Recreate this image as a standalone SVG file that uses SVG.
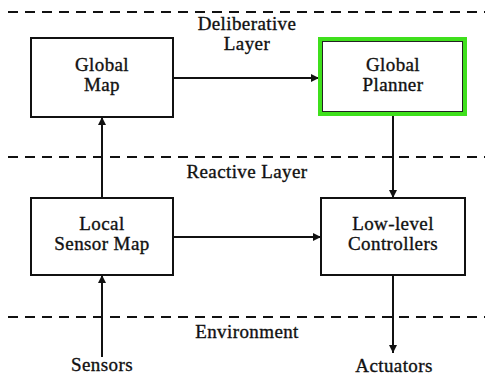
<svg xmlns="http://www.w3.org/2000/svg" width="485" height="375" viewBox="0 0 485 375">
<style>
.t{font-family:"Liberation Serif","Times New Roman",serif;font-size:19px;letter-spacing:0.4px;fill:#111;stroke:#111;stroke-width:0.35;text-anchor:middle}
.box{fill:#fff;stroke:#111;stroke-width:2}
.dash{stroke:#111;stroke-width:2;stroke-dasharray:10 7}
.ln{stroke:#111;stroke-width:2;fill:none}
</style>
<defs>
<marker id="ah" viewBox="0 0 10 10" refX="10" refY="5" markerWidth="8" markerHeight="8" markerUnits="userSpaceOnUse" orient="auto">
<path d="M0,0 L10,5 L0,10 z" fill="#111"/>
</marker>
</defs>
<rect width="485" height="375" fill="#fff"/>
<g id="layers">
<line class="dash" x1="8" y1="12" x2="485" y2="12"/>
<line class="dash" x1="8" y1="157" x2="485" y2="157"/>
<line class="dash" x1="8" y1="317" x2="485" y2="317"/>
<text class="t" x="247" y="30">Deliberative</text>
<text class="t" x="247" y="50">Layer</text>
<text class="t" x="247" y="178">Reactive Layer</text>
<text class="t" x="247" y="338">Environment</text>
</g>
<g id="connectors">
<line class="ln" x1="173" y1="78" x2="319" y2="78" marker-end="url(#ah)"/>
<line class="ln" x1="173" y1="237" x2="321" y2="237" marker-end="url(#ah)"/>
<line class="ln" x1="102" y1="198" x2="102" y2="117" marker-end="url(#ah)"/>
<line class="ln" x1="393" y1="114" x2="393" y2="198" marker-end="url(#ah)"/>
<line class="ln" x1="102" y1="357" x2="102" y2="275" marker-end="url(#ah)"/>
<line class="ln" x1="393" y1="275" x2="393" y2="353" marker-end="url(#ah)"/>
</g>
<g id="global-map">
<rect class="box" x="31" y="38" width="142" height="79"/>
<text class="t" x="102" y="71">Global</text>
<text class="t" x="102" y="91">Map</text>
</g>
<g id="global-planner">
<rect x="320" y="39" width="145" height="75" fill="#fff" stroke="#3fe01c" stroke-width="4"/>
<rect x="322.5" y="41.5" width="140" height="70" fill="none" stroke="#222" stroke-width="1"/>
<text class="t" x="393" y="71">Global</text>
<text class="t" x="393" y="91">Planner</text>
</g>
<g id="local-sensor-map">
<rect class="box" x="31" y="198" width="142" height="77"/>
<text class="t" x="102" y="230">Local</text>
<text class="t" x="102" y="250">Sensor Map</text>
</g>
<g id="low-level-controllers">
<rect class="box" x="321" y="198" width="144" height="77"/>
<text class="t" x="393" y="230">Low-level</text>
<text class="t" x="393" y="250">Controllers</text>
</g>
<g id="sensors">
<text class="t" x="102" y="371">Sensors</text>
</g>
<g id="actuators">
<text class="t" x="394" y="372">Actuators</text>
</g>
</svg>
